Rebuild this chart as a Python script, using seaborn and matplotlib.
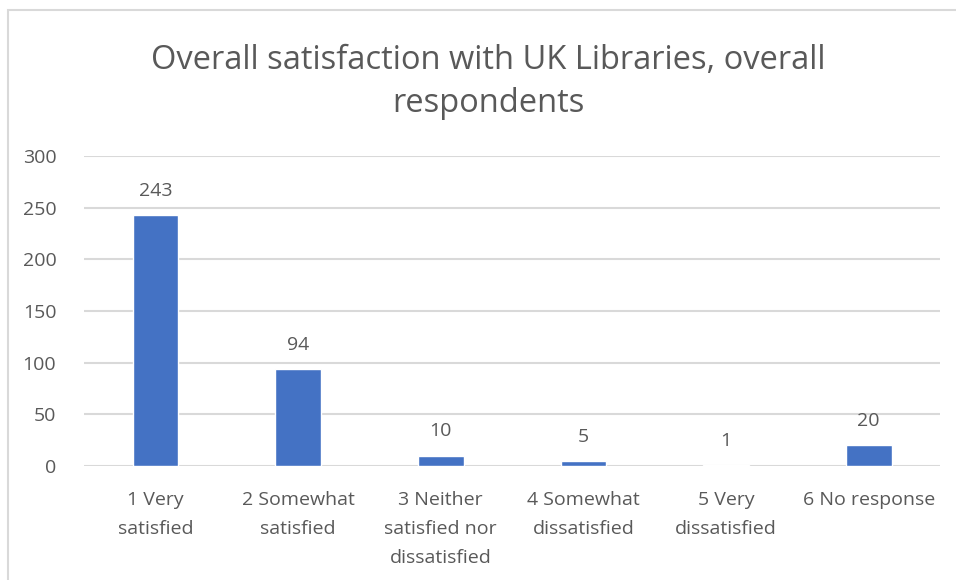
import matplotlib
matplotlib.use("Agg")
import matplotlib.pyplot as plt
import matplotlib.patches as mpatches
import seaborn as sns
import pandas as pd

categories = [
    "1 Very\nsatisfied",
    "2 Somewhat\nsatisfied",
    "3 Neither\nsatisfied nor\ndissatisfied",
    "4 Somewhat\ndissatisfied",
    "5 Very\ndissatisfied",
    "6 No response",
]
counts = [243, 94, 10, 5, 1, 20]
y_ticks = [0, 50, 100, 150, 200, 250, 300]
title = "Overall satisfaction with UK Libraries, overall\nrespondents"

TEXT = "#595959"
GRID = "#d9d9d9"
BAR = "#4472c4"

sns.set_theme(style="white")
plt.rcParams["font.family"] = ["Open Sans", "DejaVu Sans"]

df = pd.DataFrame({"category": categories, "count": counts})

fig = plt.figure(figsize=(9.56, 5.8), dpi=100)
ax = fig.add_axes([0.0879, 0.1966, 0.8954, 0.5345])

sns.barplot(data=df, x="category", y="count", color=BAR, width=0.32,
            saturation=1, ax=ax, zorder=3)

ax.set_xlim(-0.5, len(categories) - 0.5)
ax.set_ylim(0, 300)
ax.set_yticks(y_ticks)
ax.yaxis.grid(True, color=GRID, linewidth=1.5, zorder=0)
ax.set_axisbelow(True)
for side in ["top", "right", "left", "bottom"]:
    ax.spines[side].set_visible(False)
ax.set_xlabel("")
ax.set_ylabel("")
ax.tick_params(axis="both", length=0, colors=TEXT, labelsize=14)
ax.tick_params(axis="x", pad=18)
ax.tick_params(axis="y", pad=20)
for lbl in ax.get_xticklabels():
    lbl.set_linespacing(1.8)

for container in ax.containers:
    ax.bar_label(container, labels=[str(v) for v in counts], padding=11,
                 color=TEXT, fontsize=14)

fig.text(0.511, 0.859, title, ha="center", va="center", color=TEXT,
         fontsize=23.5, linespacing=1.42)

# chart frame
fig.patches.append(mpatches.Rectangle((8 / 956, -0.1), 1.2, 1 - 10 / 580 + 0.1,
                                      transform=fig.transFigure, fill=False,
                                      edgecolor=GRID, linewidth=1.5))

fig.savefig("out.png", dpi=100)
